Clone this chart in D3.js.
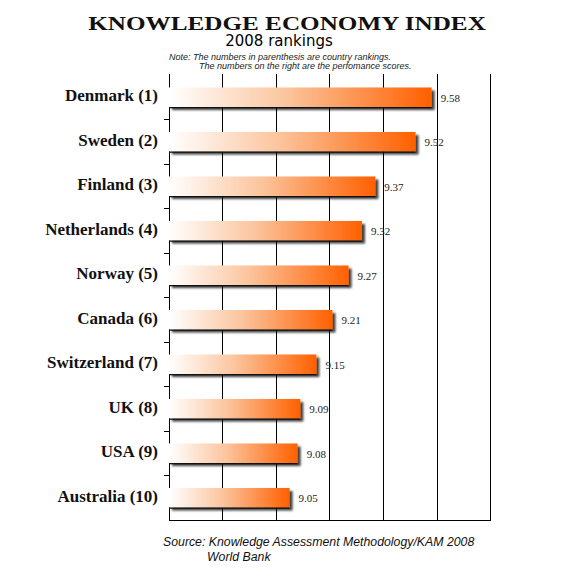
<!DOCTYPE html>
<html>
<head>
<meta charset="utf-8">
<script src="https://cdn.jsdelivr.net/npm/d3@7"></script>
<style>
  body { margin: 0; background: #fff; }
  svg { display: block; }
</style>
</head>
<body>
<div id="chart"></div>
<script>
const countries = ["Denmark", "Sweden", "Finland", "Netherlands", "Norway", "Canada", "Switzerland", "UK", "USA", "Australia"]
const ranks = [1, 2, 3, 4, 5, 6, 7, 8, 9, 10]
const scores = [9.58, 9.52, 9.37, 9.32, 9.27, 9.21, 9.15, 9.09, 9.08, 9.05]
const gridTicks = [8.6, 8.8, 9.0, 9.2, 9.4, 9.6, 9.8]

const width = 569
const height = 588

const rows = countries.map((c, i) => ({name: c, rank: ranks[i], score: scores[i]}))

const svg = d3.select("#chart")
  .append("svg")
  .attr("width", width)
  .attr("height", height)

const defs = svg.append("defs")

const grad = defs.append("linearGradient")
  .attr("id", "barGrad")
  .attr("x1", "0").attr("y1", "0").attr("x2", "1").attr("y2", "0")
grad.append("stop").attr("offset", "0").attr("stop-color", "#ffffff")
grad.append("stop").attr("offset", "0.45").attr("stop-color", "#fbc49c")
grad.append("stop").attr("offset", "1").attr("stop-color", "#ff6000")

const shadow = defs.append("filter")
  .attr("id", "shadow")
  .attr("x", "-5%").attr("y", "-30%").attr("width", "115%").attr("height", "180%")
shadow.append("feDropShadow")
  .attr("dx", 3).attr("dy", 3)
  .attr("stdDeviation", 1.3)
  .attr("flood-color", "#000")
  .attr("flood-opacity", 0.75)

const x = d3.scaleLinear()
  .domain([gridTicks[0], gridTicks[gridTicks.length - 1]])
  .range([169, 490.6])

const y = d3.scaleBand()
  .domain(countries)
  .range([75, 520])
  .paddingInner(0.56)
  .paddingOuter(0.28)

const plotTop = 74, plotBottom = 520

// vertical grid
svg.append("g")
  .selectAll("line")
  .data(gridTicks)
  .join("line")
    .attr("x1", d => x(d)).attr("x2", d => x(d))
    .attr("y1", plotTop).attr("y2", plotBottom)
    .attr("stroke", "#000")
    .attr("stroke-width", 1)
    .attr("shape-rendering", "crispEdges")

// bottom axis line
svg.append("line")
  .attr("x1", x.range()[0]).attr("x2", x.range()[1])
  .attr("y1", plotBottom).attr("y2", plotBottom)
  .attr("stroke", "#000")
  .attr("shape-rendering", "crispEdges")

// left ticks between rows
const boundaries = countries.slice(1).map(c => y(c) - y.step() * y.paddingInner() / 2)
svg.append("g")
  .selectAll("line")
  .data(boundaries)
  .join("line")
    .attr("x1", x.range()[0] - 5).attr("x2", x.range()[0])
    .attr("y1", d => d).attr("y2", d => d)
    .attr("stroke", "#000")
    .attr("shape-rendering", "crispEdges")

// bars
const bars = svg.append("g")
  .selectAll("g.bar")
  .data(rows)
  .join("g")
    .attr("class", "bar")

bars.append("rect")
  .attr("x", x(gridTicks[0]))
  .attr("y", d => y(d.name))
  .attr("width", d => x(d.score) - x(gridTicks[0]))
  .attr("height", y.bandwidth())
  .attr("fill", "url(#barGrad)")
  .attr("filter", "url(#shadow)")

bars.append("line")
  .attr("x1", x(gridTicks[0]))
  .attr("x2", d => x(d.score))
  .attr("y1", d => y(d.name) + y.bandwidth() + 0.5)
  .attr("y2", d => y(d.name) + y.bandwidth() + 0.5)
  .attr("stroke", "#111")
  .attr("stroke-width", 1.2)

bars.append("text")
  .attr("x", d => x(d.score) + 9)
  .attr("y", d => y(d.name) + y.bandwidth() / 2 + 4.5)
  .attr("font-family", "'Liberation Serif', 'DejaVu Serif', serif")
  .attr("font-size", "11px")
  .attr("fill", "#222")
  .text(d => d.score.toFixed(2))

// country labels
svg.append("g")
  .selectAll("text")
  .data(rows)
  .join("text")
    .attr("x", 158)
    .attr("y", d => y(d.name) + y.bandwidth() / 2 + 4)
    .attr("text-anchor", "end")
    .attr("font-family", "'Liberation Serif', 'DejaVu Serif', serif")
    .attr("font-weight", "bold")
    .attr("font-size", "17px")
    .attr("fill", "#111")
    .text(d => `${d.name} (${d.rank})`)

// titles
svg.append("text")
  .attr("transform", "translate(287,30) scale(1.4,1)")
  .attr("text-anchor", "middle")
  .attr("font-family", "'Liberation Serif', serif")
  .attr("font-weight", "bold")
  .attr("font-size", "18px")
  .attr("fill", "#111")
  .text("KNOWLEDGE ECONOMY INDEX")

svg.append("text")
  .attr("x", 279)
  .attr("y", 45.5)
  .attr("text-anchor", "middle")
  .attr("font-family", "'DejaVu Sans', sans-serif")
  .attr("font-size", "15px")
  .attr("fill", "#000")
  .text("2008 rankings")

const note = svg.append("g")
  .attr("font-family", "'Liberation Sans', Arial, sans-serif")
  .attr("font-style", "italic")
  .attr("font-size", "9px")
  .attr("fill", "#222")
note.append("text").attr("x", 169).attr("y", 60)
  .text("Note: The numbers in parenthesis are country rankings.")
note.append("text").attr("x", 199).attr("y", 68.5)
  .text("The numbers on the right are the perfomance scores.")

const source = svg.append("g")
  .attr("font-family", "'Liberation Sans', Arial, sans-serif")
  .attr("font-style", "italic")
  .attr("font-size", "12.3px")
  .attr("fill", "#111")
source.append("text").attr("x", 163).attr("y", 546)
  .text("Source: Knowledge Assessment Methodology/KAM 2008")
source.append("text").attr("x", 207).attr("y", 561)
  .text("World Bank")
</script>
</body>
</html>
